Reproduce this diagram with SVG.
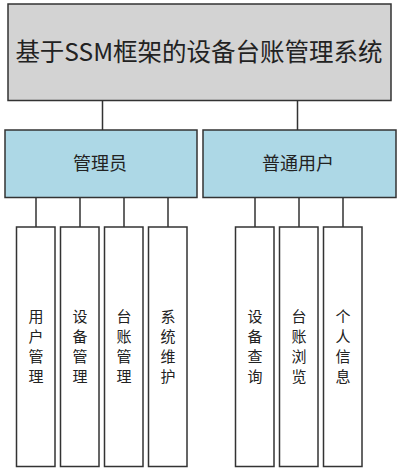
<svg xmlns="http://www.w3.org/2000/svg" width="400" height="473" viewBox="0 0 400 473">
<style>
.box{stroke:#333;stroke-width:1.5}
.root{fill:#d3d3d3}
.mid{fill:#add8e6}
.leaf{fill:#fff}
.ln{stroke:#333;stroke-width:1.5;fill:none}
text{font-family:"Noto Sans CJK SC","Microsoft YaHei",sans-serif;fill:#222;text-anchor:middle}
.t1{font-size:24.5px}
.t2{font-size:18px}
.t3{font-size:15px}
</style>
<rect width="400" height="473" fill="#fff"/>
<g id="connectors">
<path class="ln" d="M102.5 101V130M297.5 101V130"/>
<path class="ln" d="M36 198V227M80 198V227M124 198V227M168 198V227"/>
<path class="ln" d="M255 198V227M299 198V227M343 198V227"/>
</g>
<g id="root">
<rect class="box root" x="8" y="4" width="383" height="96.5"/>
<text class="t1" x="199" y="61">基于SSM框架的设备台账管理系统</text>
</g>
<g id="admin">
<rect class="box mid" x="5" y="130" width="192" height="67.5"/>
<text class="t2" x="100" y="170">管理员</text>
</g>
<g id="user">
<rect class="box mid" x="203" y="130" width="193" height="67.5"/>
<text class="t2" x="298" y="170">普通用户</text>
</g>
<g id="n1">
<rect class="box leaf" x="16.5" y="227" width="38.5" height="239.5"/>
<text class="t3"><tspan x="36" y="322">用</tspan><tspan x="36" y="342">户</tspan><tspan x="36" y="362">管</tspan><tspan x="36" y="382">理</tspan></text>
</g>
<g id="n2">
<rect class="box leaf" x="60.5" y="227" width="38.5" height="239.5"/>
<text class="t3"><tspan x="80" y="322">设</tspan><tspan x="80" y="342">备</tspan><tspan x="80" y="362">管</tspan><tspan x="80" y="382">理</tspan></text>
</g>
<g id="n3">
<rect class="box leaf" x="104.5" y="227" width="38.5" height="239.5"/>
<text class="t3"><tspan x="124" y="322">台</tspan><tspan x="124" y="342">账</tspan><tspan x="124" y="362">管</tspan><tspan x="124" y="382">理</tspan></text>
</g>
<g id="n4">
<rect class="box leaf" x="148.5" y="227" width="38.5" height="239.5"/>
<text class="t3"><tspan x="168" y="322">系</tspan><tspan x="168" y="342">统</tspan><tspan x="168" y="362">维</tspan><tspan x="168" y="382">护</tspan></text>
</g>
<g id="n5">
<rect class="box leaf" x="235.5" y="227" width="38.5" height="239.5"/>
<text class="t3"><tspan x="255" y="322">设</tspan><tspan x="255" y="342">备</tspan><tspan x="255" y="362">查</tspan><tspan x="255" y="382">询</tspan></text>
</g>
<g id="n6">
<rect class="box leaf" x="279.5" y="227" width="38.5" height="239.5"/>
<text class="t3"><tspan x="299" y="322">台</tspan><tspan x="299" y="342">账</tspan><tspan x="299" y="362">浏</tspan><tspan x="299" y="382">览</tspan></text>
</g>
<g id="n7">
<rect class="box leaf" x="323.5" y="227" width="38.5" height="239.5"/>
<text class="t3"><tspan x="343" y="322">个</tspan><tspan x="343" y="342">人</tspan><tspan x="343" y="362">信</tspan><tspan x="343" y="382">息</tspan></text>
</g>
</svg>
